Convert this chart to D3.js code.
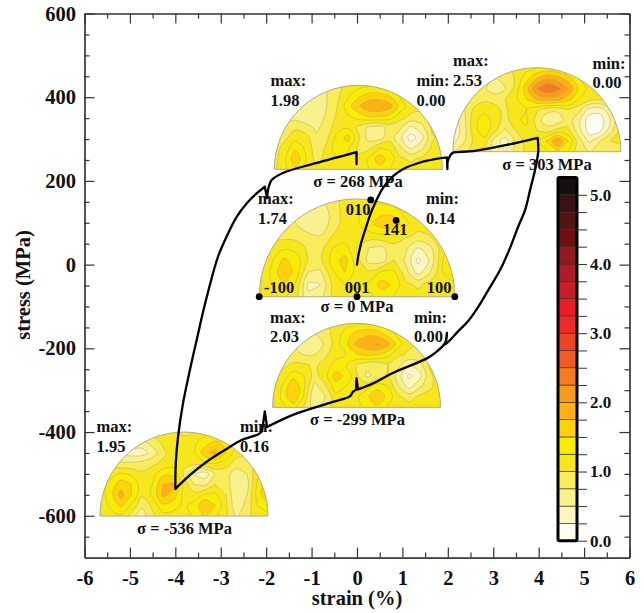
<!DOCTYPE html>
<html>
<head>
<meta charset="utf-8">
<script src="https://cdn.jsdelivr.net/npm/d3@7"></script>
<style>
    body { margin: 0; background: #fff; }
    text { font-family: "Liberation Serif", serif; font-weight: bold; fill: #111; }
    .axis path, .axis line { stroke: #333; stroke-width: 1.2px; }
</style>
</head>
<body>
<div class="container"></div>
<script>
// stress-strain loop
var strain = [0, 0.02, 0.055, 0.10, 0.18, 0.29, 0.42, 0.57, 0.77, 1.01, 1.39, 1.72, 1.98, 1.99, 2.0, 2.05, 2.11, 2.56, 3.30, 3.98,
    3.99, 3.92, 3.81, 3.70, 3.55, 3.37, 3.15, 2.89, 2.67, 2.44, 2.22, 2.05, 1.95, 1.98, 1.94, 1.72, 1.54, 0.79, 0.33, 0.02,
    -0.01, -0.02, -0.09, -0.15, -0.53, -1.41, -1.98, -2.03, -2.09, -2.17, -2.54, -2.91, -3.31, -3.68, -4.0,
    -3.99, -3.94, -3.83, -3.68, -3.48, -3.39, -3.24, -3.06, -2.87, -2.65, -2.43, -2.21, -2.03, -1.98, -1.95, -1.88, -1.63, -0.89, -0.01, -0.01];
var stress = [0, 16, 35, 55, 83, 119, 152, 183, 209, 228, 244, 252, 256, 228, 248, 260, 267, 271, 286, 303,
    270, 226, 178, 130, 91, 40, -13, -61, -101, -136, -160, -180, -190, -163, -187, -211, -224, -259, -285, -298,
    -272, -299, -304, -314, -328, -359, -388, -351, -398, -405, -419, -443, -471, -503, -536,
    -474, -411, -331, -252, -156, -113, -49, 19, 67, 114, 146, 170, 186, 159, 183, 202, 219, 243, 269, 240];
// indexes where the loop turns sharply (peaks, relaxation spikes)
var corners = [12, 13, 19, 32, 33, 39, 40, 41, 46, 47, 48, 54, 67, 68, 73];

var xMajor = [-6, -5, -4, -3, -2, -1, 0, 1, 2, 3, 4, 5, 6];
var xMinor = [-5.5, -4.5, -3.5, -2.5, -1.5, -0.5, 0.5, 1.5, 2.5, 3.5, 4.5, 5.5];
var yMajor = [-600, -400, -200, 0, 200, 400, 600];
var yMinor = [-650, -550, -500, -450, -350, -300, -250, -150, -100, -50, 50, 100, 150, 250, 300, 350, 450, 500, 550];

var colorTicks = [0, 1, 2, 3, 4, 5];
var levelColors = ['#fffdf0', '#fcf5c0', '#f9f08e', '#f8ec5c', '#f7e61c', '#f9eb05', '#fdd20c', '#fdb112', '#f99a1c', '#f47b20', '#f15a24',
    '#ef4423', '#ed2a26', '#ed1c24', '#c81e2b', '#ac1c2a', '#901a1f', '#6e0f12', '#551414', '#3a1214', '#141010'];

var sigmaLabels = ['σ = 268 MPa', 'σ = 303 MPa', 'σ = 0 MPa', 'σ = -299 MPa', 'σ = -536 MPa'];
var maxLabels = ['1.98', '2.53', '1.74', '2.03', '1.95'];
var minLabels = ['0.00', '0.00', '0.14', '0.00', '0.16'];

// pole figure intensity, 9 rows from the top of the semicircle to its base, 17 columns left to right
var pole268 = [
    [.7, .7, .7, .7, .7, .75, .9, 1.1, 1.15, 1.2, 1.2, 1.15, 1.15, 1.1, 1.1, 1.1, 1.1],
    [.65, .65, .65, .65, .65, .75, .95, 1.2, 1.45, 1.6, 1.6, 1.5, 1.2, 1.1, 1.1, 1.1, 1.1],
    [.6, .6, .55, .5, .55, .75, 1.0, 1.4, 1.7, 1.95, 1.98, 1.85, 1.4, 1.1, 1.05, 1.1, 1.1],
    [.7, .7, .65, .55, .6, .8, 1.05, 1.2, 1.35, 1.5, 1.5, 1.4, 1.1, .95, .95, 1.1, 1.15],
    [.8, .8, .95, .85, .7, .85, 1.15, 1.2, .95, .7, .65, .85, .8, .45, .65, 1.05, 1.15],
    [.85, .95, 1.15, 1.1, .8, .95, 1.35, 1.6, 1.05, .65, .65, .9, .55, .12, .4, .95, 1.15],
    [.9, 1.1, 1.45, 1.2, .85, 1.05, 1.45, 1.3, .95, .95, 1.25, 1.2, .8, .5, .7, 1.05, 1.15],
    [.9, 1.2, 1.7, 1.25, .9, 1.1, 1.25, 1.15, 1.05, 1.3, 1.65, 1.4, 1.05, .95, 1.05, 1.15, 1.15],
    [.95, 1.2, 1.45, 1.2, 1.05, 1.15, 1.15, 1.1, 1.1, 1.25, 1.4, 1.25, 1.15, 1.1, 1.15, 1.15, 1.15]
];
var pole303 = [
    [1.0, 1.0, 1.0, 1.0, .95, .95, 1.05, 1.15, 1.25, 1.3, 1.25, 1.15, 1.1, 1.1, 1.1, 1.1, 1.1],
    [.95, .95, .95, .9, .75, .75, 1.05, 1.4, 1.75, 1.95, 1.85, 1.6, 1.25, 1.1, 1.1, 1.1, 1.1],
    [.9, .9, .9, .8, .55, .75, 1.1, 1.65, 2.25, 2.53, 2.35, 2.0, 1.45, 1.15, 1.1, 1.1, 1.1],
    [.8, .8, .85, .95, .95, 1.0, 1.2, 1.5, 1.8, 1.9, 1.85, 1.6, 1.25, 1.1, 1.05, 1.1, 1.1],
    [.6, .7, 1.05, 1.15, 1.05, .95, 1.2, 1.25, 1.05, .85, .8, 1.0, .85, .4, .35, .7, 1.1],
    [.4, .65, 1.15, 1.4, 1.15, .9, 1.2, 1.3, .9, .55, .6, .9, .55, .1, .1, .5, 1.05],
    [.3, .6, 1.15, 1.4, 1.05, .7, 1.0, 1.2, 1.0, .9, 1.1, 1.05, .6, .12, .18, .65, 1.1],
    [.4, .7, 1.05, 1.15, .6, .4, .8, 1.1, 1.2, 1.55, 2.0, 1.5, .85, .45, .75, 1.0, 1.05],
    [.75, .95, 1.05, 1.0, .6, .5, .85, 1.05, 1.05, 1.25, 1.5, 1.25, .85, .75, .85, .75, .85]
];
var pole0 = [
    [.9, .85, .85, .85, .8, .75, .9, 1.1, 1.15, 1.15, 1.15, 1.1, 1.1, 1.1, 1.1, 1.1, 1.1],
    [.8, .8, .8, .75, .6, .55, .85, 1.1, 1.2, 1.35, 1.4, 1.35, 1.15, 1.1, 1.1, 1.1, 1.1],
    [.8, .8, .8, .75, .6, .55, .85, 1.1, 1.2, 1.45, 1.65, 1.7, 1.3, 1.1, 1.1, 1.15, 1.15],
    [.85, .95, .9, .9, .8, .75, 1.0, 1.1, 1.05, 1.15, 1.2, 1.2, 1.05, .95, 1.0, 1.15, 1.2],
    [.9, 1.05, 1.2, 1.15, .95, .9, 1.25, 1.35, 1.0, .75, .7, .9, .8, .5, .7, 1.15, 1.4],
    [.95, 1.2, 1.55, 1.4, 1.0, .95, 1.35, 1.6, 1.1, .65, .6, 1.0, .7, .18, .55, 1.25, 1.65],
    [.95, 1.3, 1.7, 1.4, .75, .7, 1.2, 1.5, 1.15, 1.05, 1.3, 1.3, .85, .4, .75, 1.25, 1.5],
    [.95, 1.25, 1.5, 1.2, .45, .5, 1.05, 1.25, 1.2, 1.3, 1.6, 1.45, 1.05, .95, 1.1, 1.15, 1.2],
    [1.0, 1.2, 1.3, 1.1, .55, .65, 1.05, 1.15, 1.15, 1.2, 1.35, 1.25, 1.15, 1.1, 1.1, 1.1, 1.1]
];
var poleM299 = [
    [.95, .9, .9, .9, .9, .95, 1.05, 1.15, 1.2, 1.2, 1.15, 1.1, 1.1, 1.05, 1.05, 1.05, 1.05],
    [.85, .85, .8, .75, .75, .9, 1.1, 1.35, 1.6, 1.7, 1.65, 1.4, 1.15, 1.05, 1.05, 1.05, 1.05],
    [.8, .8, .75, .6, .55, .8, 1.1, 1.45, 1.8, 1.95, 2.03, 1.85, 1.35, 1.05, 1.0, 1.05, 1.05],
    [.85, .85, .85, .75, .75, .95, 1.15, 1.25, 1.45, 1.55, 1.5, 1.3, 1.05, .95, .95, 1.05, 1.1],
    [.9, .95, 1.05, 1.05, .95, 1.1, 1.35, 1.25, 1.0, .8, .8, 1.0, .8, .5, .65, 1.05, 1.15],
    [.9, 1.1, 1.4, 1.25, .9, 1.15, 1.6, 1.45, 1.05, .7, .85, 1.05, .6, .2, .4, .95, 1.15],
    [.95, 1.3, 1.75, 1.3, .65, .95, 1.4, 1.25, 1.1, 1.15, 1.4, 1.25, .75, .4, .7, .95, 1.15],
    [.95, 1.35, 1.75, 1.2, .5, .75, 1.15, 1.15, 1.2, 1.45, 1.7, 1.4, 1.05, .9, 1.05, 1.1, 1.15],
    [.95, 1.2, 1.35, 1.0, .6, .85, 1.1, 1.1, 1.2, 1.3, 1.45, 1.2, 1.1, 1.1, 1.15, 1.15, 1.15]
];
var poleM536 = [
    [1.1, 1.1, 1.1, 1.1, 1.1, 1.1, 1.1, 1.05, .95, 1.0, 1.15, 1.2, 1.2, 1.2, 1.2, 1.2, 1.2],
    [.9, .9, .85, .7, .65, .85, 1.05, 1.1, 1.1, 1.2, 1.4, 1.55, 1.45, 1.2, 1.15, 1.15, 1.15],
    [.65, .65, .45, .38, .38, .6, .95, 1.1, 1.15, 1.25, 1.65, 1.85, 1.5, 1.1, 1.05, 1.1, 1.15],
    [.9, .9, .8, .8, .85, .95, 1.05, 1.15, 1.05, 1.05, 1.2, 1.25, 1.1, .9, .9, 1.1, 1.2],
    [1.1, 1.15, 1.3, 1.2, 1.05, 1.15, 1.45, 1.4, .95, .5, .35, .8, .85, .6, .75, 1.2, 1.35],
    [1.1, 1.35, 1.65, 1.5, 1.1, 1.25, 1.75, 1.8, 1.15, .75, .7, 1.0, .9, .5, .65, 1.3, 1.7],
    [1.1, 1.4, 1.85, 1.5, 1.05, 1.3, 1.8, 1.65, 1.15, 1.1, 1.3, 1.3, 1.0, .5, .75, 1.35, 1.78],
    [1.05, 1.3, 1.55, 1.2, .8, 1.05, 1.45, 1.35, 1.2, 1.35, 1.75, 1.5, 1.05, .55, .85, 1.25, 1.35],
    [1.05, 1.15, 1.2, .9, .6, .95, 1.15, 1.15, 1.15, 1.3, 1.55, 1.3, 1.05, .7, .9, 1.15, 1.2]
];
var poleGrids = [pole268, pole303, pole0, poleM299, poleM536];

// crystal directions marked on the sigma = 0 figure, in units of its radius
var dirNames = ['010', '141', '-100', '001', '100'];
var dirU = [0.14, 0.40, -1, 0, 1];
var dirV = [0.99, 0.78, 0, 0, 0];

var WIDTH = 644, HEIGHT = 613;
var LEFT = 84.5, RIGHT = 629.5, TOP = 13.5, BOTTOM = 557.6;

var xScale = d3.scaleLinear().domain([-6, 6]).range([LEFT, RIGHT]);
var yScale = d3.scaleLinear().domain([-700, 600]).range([BOTTOM, TOP]);
var colorScale = d3.scaleLinear().domain([0, 5.25]).range([540.7, 177.5]);

// where each figure sits on the plot (strain, stress of its base centre) and where its texts go
var insets = [
    {cx: 0.03, cy: 227.7, r: 1.85, maxX: 270.5, maxY: 86, minX: 416.5, minY: 86, sigX: 358, sigY: 186.5},
    {cx: 3.96, cy: 269.8, r: 1.85, maxX: 453, maxY: 66, minX: 592.5, minY: 68.5, sigX: 547, sigY: 170},
    {cx: 0, cy: -76.7, r: 2.154, maxX: 258, maxY: 204, minX: 426, minY: 204, sigX: 357, sigY: 312},
    {cx: -0.01, cy: -341, r: 1.85, maxX: 270, maxY: 322.5, minX: 414, minY: 322.5, sigX: 357.5, sigY: 425},
    {cx: -3.81, cy: -600.7, r: 1.85, maxX: 96.5, maxY: 432, minX: 240, minY: 432, sigX: 184.5, sigY: 534}
];
var dirLabels = [
    {x: 358, y: 215, anchor: 'middle'},
    {x: 395, y: 235, anchor: 'middle'},
    {x: 264, y: 293, anchor: 'start'},
    {x: 357, y: 293, anchor: 'middle'},
    {x: 439, y: 293, anchor: 'middle'}
];

var translate = function (x, y) {
    return 'translate(' + x + ', ' + y + ')';
};

var addAxis = function (svg, axis, x, y, showLabels) {
    var g = svg.append('g')
        .attr('class', 'axis')
        .attr('transform', translate(x, y))
        .call(axis);
    g.select('.domain').attr('fill', 'none');
    g.selectAll('text').style('font-size', '20.5px');
    if (!showLabels) g.selectAll('text').remove();
};

var addFrame = function (svg) {
    var fmt = function (d) { return d; };
    addAxis(svg, d3.axisBottom(xScale).tickValues(xMinor).tickSizeInner(-5).tickSizeOuter(0).tickFormat(''), 0, BOTTOM, false);
    addAxis(svg, d3.axisBottom(xScale).tickValues(xMajor).tickSizeInner(-10).tickSizeOuter(0).tickPadding(12.5).tickFormat(fmt), 0, BOTTOM, true);
    addAxis(svg, d3.axisTop(xScale).tickValues(xMinor).tickSizeInner(-5).tickSizeOuter(0).tickFormat(''), 0, TOP, false);
    addAxis(svg, d3.axisTop(xScale).tickValues(xMajor).tickSizeInner(-10).tickSizeOuter(0).tickFormat(''), 0, TOP, false);
    addAxis(svg, d3.axisLeft(yScale).tickValues(yMinor).tickSizeInner(-5).tickSizeOuter(0).tickFormat(''), LEFT, 0, false);
    addAxis(svg, d3.axisLeft(yScale).tickValues(yMajor).tickSizeInner(-10).tickSizeOuter(0).tickPadding(8.5).tickFormat(fmt), LEFT, 0, true);
    addAxis(svg, d3.axisRight(yScale).tickValues(yMinor).tickSizeInner(-5).tickSizeOuter(0).tickFormat(''), RIGHT, 0, false);
    addAxis(svg, d3.axisRight(yScale).tickValues(yMajor).tickSizeInner(-10).tickSizeOuter(0).tickFormat(''), RIGHT, 0, false);

    svg.append('text')
        .attr('x', 357).attr('y', 605)
        .attr('text-anchor', 'middle')
        .style('font-size', '20.5px')
        .text('strain (%)');
    svg.append('text')
        .attr('transform', translate(30, 285) + ' rotate(-90)')
        .attr('text-anchor', 'middle')
        .style('font-size', '20.5px')
        .text('stress (MPa)');
};

// one extra row and column all round so the contours run past the clip edge
var padGrid = function (grid) {
    var rows = [grid[0]].concat(grid, [grid[grid.length - 1]]);
    var values = [];
    rows.forEach(function (row) {
        values.push(row[0]);
        row.forEach(function (v) { values.push(v); });
        values.push(row[row.length - 1]);
    });
    return values;
};

var addPoleFigure = function (svg, grid, inset, i) {
    var cx = xScale(inset.cx);
    var base = yScale(inset.cy);
    var radius = xScale(inset.r) - xScale(0);
    var nx = grid[0].length + 2, ny = grid.length + 2;

    var arc = d3.arc()({innerRadius: 0, outerRadius: radius, startAngle: -Math.PI / 2, endAngle: Math.PI / 2});

    svg.append('clipPath').attr('id', 'pole' + i)
        .append('path')
        .attr('transform', translate(cx, base))
        .attr('d', arc);

    var thresholds = levelColors.map(function (c, k) { return k * 0.25; });
    var contours = d3.contours().size([nx, ny]).thresholds(thresholds)(padGrid(grid));

    var ringLine = d3.line()
        .x(function (p) { return cx + radius * ((p[0] - 1.5) / 8 - 1); })
        .y(function (p) { return base - radius * (1 - (p[1] - 1.5) / 8); })
        .curve(d3.curveCatmullRomClosed.alpha(0.5));

    var g = svg.append('g').attr('clip-path', 'url(#pole' + i + ')');
    g.selectAll('path')
        .data(contours.filter(function (c) { return c.coordinates.length > 0; }))
        .enter()
        .append('path')
        .attr('d', function (c) {
            return c.coordinates.map(function (polygon) {
                return polygon.map(function (ring) {
                    return ringLine(ring.slice(0, -1));
                }).join('');
            }).join('');
        })
        .attr('fill', function (c) { return levelColors[Math.round(c.value / 0.25)]; })
        .attr('stroke', '#bfae5c')
        .attr('stroke-width', 0.55);

    svg.append('path')
        .attr('transform', translate(cx, base))
        .attr('d', arc)
        .attr('fill', 'none')
        .attr('stroke', '#a9a48c')
        .attr('stroke-width', 0.9);
};

var addInsetText = function (svg, inset, i) {
    var add = function (x, y, label, anchor) {
        svg.append('text')
            .attr('x', x).attr('y', y)
            .attr('text-anchor', anchor || 'start')
            .style('font-size', '16.5px')
            .text(label);
    };
    add(inset.maxX, inset.maxY, 'max:');
    add(inset.maxX, inset.maxY + 19.7, maxLabels[i]);
    add(inset.minX, inset.minY, 'min:');
    add(inset.minX, inset.minY + 19.7, minLabels[i]);
    add(inset.sigX, inset.sigY, sigmaLabels[i], 'middle');
};

var addDirections = function (svg) {
    var inset = insets[2];
    var radius = xScale(inset.r) - xScale(0);
    dirNames.forEach(function (name, k) {
        svg.append('text')
            .attr('x', dirLabels[k].x).attr('y', dirLabels[k].y)
            .attr('text-anchor', dirLabels[k].anchor)
            .style('font-size', '16.5px')
            .text(name);
        svg.append('circle')
            .attr('cx', xScale(inset.cx) + radius * dirU[k])
            .attr('cy', yScale(inset.cy) - radius * dirV[k])
            .attr('r', 3.4)
            .attr('fill', '#000');
    });
};

var addColorBar = function (svg) {
    var barX = 558, barW = 19;
    svg.selectAll('rect.level')
        .data(levelColors)
        .enter()
        .append('rect')
        .attr('class', 'level')
        .attr('x', barX)
        .attr('width', barW)
        .attr('y', function (d, k) { return colorScale((k + 1) * 0.25); })
        .attr('height', function (d, k) { return colorScale(k * 0.25) - colorScale((k + 1) * 0.25); })
        .attr('fill', function (d) { return d; })
        .attr('stroke', '#3a2a20')
        .attr('stroke-width', 0.6);
    svg.append('rect')
        .attr('x', barX).attr('y', colorScale(5.25))
        .attr('width', barW)
        .attr('height', colorScale(0) - colorScale(5.25))
        .attr('rx', 1.5)
        .attr('fill', 'none')
        .attr('stroke', '#000')
        .attr('stroke-width', 3);

    var axis = d3.axisRight(colorScale)
        .tickValues(d3.range(0, 20).map(function (k) { return k * 0.25; }).concat([5]))
        .tickSizeInner(10)
        .tickSizeOuter(0)
        .tickPadding(3)
        .tickFormat(function (d) { return colorTicks.indexOf(d) >= 0 ? d.toFixed(1) : ''; });
    var g = svg.append('g')
        .attr('class', 'axis')
        .attr('transform', translate(barX + barW, 0))
        .call(axis);
    g.select('.domain').remove();
    g.selectAll('line').style('stroke-width', '1px');
    g.selectAll('text').style('font-size', '17px');
};

// smooth between the corners, sharp at them
var addCurve = function (svg) {
    var line = d3.line()
        .x(function (k) { return xScale(strain[k]); })
        .y(function (k) { return yScale(stress[k]); })
        .curve(d3.curveCatmullRom.alpha(0.5));
    var stops = [0].concat(corners, [strain.length - 1]);
    var d = '';
    for (var s = 0; s < stops.length - 1; s++) {
        d += line(d3.range(stops[s], stops[s + 1] + 1));
    }
    svg.append('path')
        .attr('d', d)
        .attr('fill', 'none')
        .attr('stroke', '#000')
        .attr('stroke-width', 2.3)
        .attr('stroke-linejoin', 'round')
        .attr('stroke-linecap', 'round');
};

var visualize = function () {
    var svg = d3.select('.container')
        .append('svg')
        .attr('width', WIDTH)
        .attr('height', HEIGHT)
        .style('display', 'block');

    addFrame(svg);
    poleGrids.forEach(function (grid, i) {
        addPoleFigure(svg, grid, insets[i], i);
    });
    insets.forEach(function (inset, i) {
        addInsetText(svg, inset, i);
    });
    addDirections(svg);
    addColorBar(svg);
    addCurve(svg);
};

window.onload = visualize;
</script>
</body>
</html>
